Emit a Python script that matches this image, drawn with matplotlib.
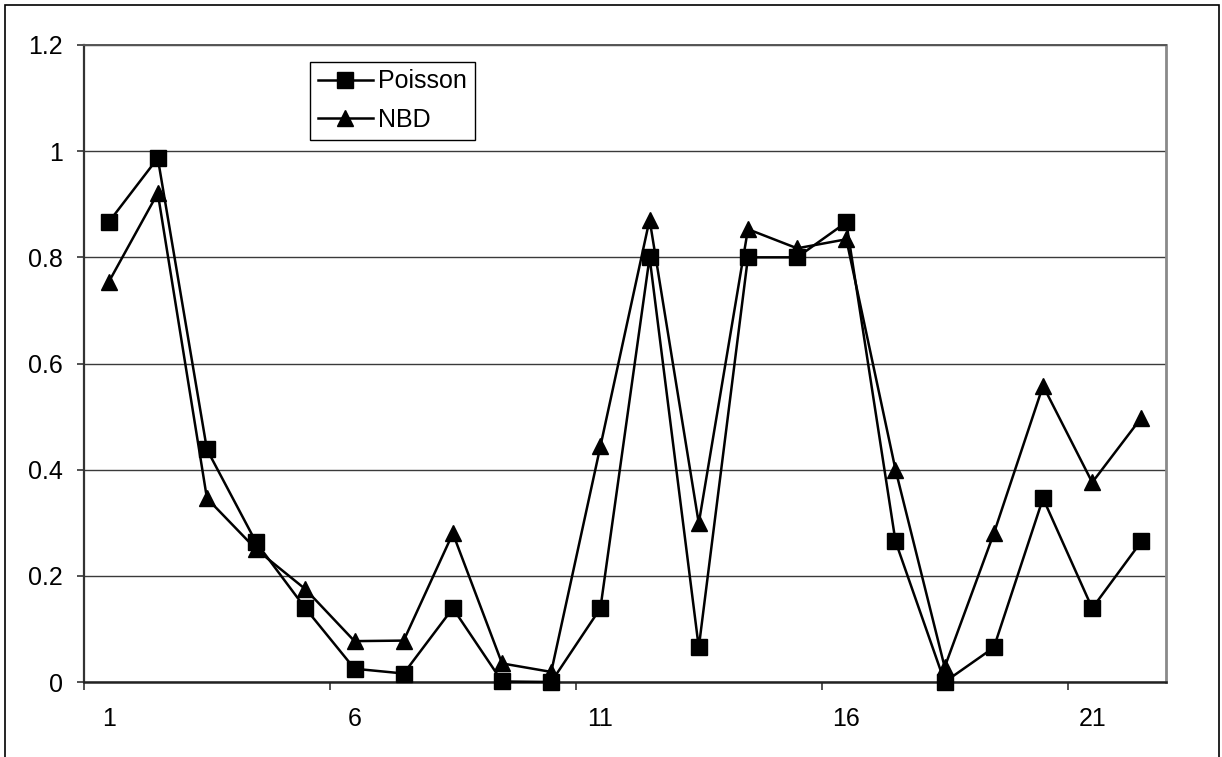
"""Line chart comparing Poisson and NBD fit values across 22 items."""

import matplotlib

matplotlib.use("Agg")

import matplotlib.pyplot as plt
from matplotlib.patches import Rectangle
from matplotlib.ticker import FixedLocator


CATEGORIES = list(range(1, 23))
POISSON = [0.866, 0.987, 0.438, 0.263, 0.139, 0.025, 0.016, 0.139, 0.001, 0.0, 0.139,
           0.800, 0.065, 0.800, 0.800, 0.866, 0.265, 0.0, 0.065, 0.346, 0.139, 0.265]
NBD = [0.753, 0.921, 0.346, 0.250, 0.175, 0.077, 0.078, 0.280, 0.035, 0.019, 0.444,
       0.871, 0.299, 0.853, 0.817, 0.834, 0.400, 0.028, 0.280, 0.558, 0.376, 0.498]
X_TICK_LABELS = ["1", "6", "11", "16", "21"]
Y_TICKS = [0, 0.2, 0.4, 0.6, 0.8, 1, 1.2]
Y_TICK_LABELS = ["0", "0.2", "0.4", "0.6", "0.8", "1", "1.2"]

WIDTH, HEIGHT = 1222, 757
FONT_SIZE = 18


def build_chart(output_file="out.png"):
    plt.rcParams["font.family"] = ["Liberation Sans", "DejaVu Sans"]
    fig = plt.figure(figsize=(WIDTH / 100, HEIGHT / 100), dpi=100)

    # plot area in pixels: x 84..1166, y 45..682
    ax = fig.add_axes([84 / WIDTH, 1 - 682 / HEIGHT, (1166 - 84) / WIDTH, (682 - 45) / HEIGHT])

    # outer chart border (open at the bottom edge of the image)
    fig.patches.append(Rectangle((5 / WIDTH, -0.05), (1219 - 5) / WIDTH, 1.05 - 5 / HEIGHT,
                                 transform=fig.transFigure, fill=False,
                                 edgecolor="black", linewidth=1.2))

    ax.set_xlim(0.5, len(CATEGORIES) + 0.5)
    ax.set_ylim(0, 1.2)

    ax.set_yticks(Y_TICKS)
    ax.set_yticklabels(Y_TICK_LABELS)
    ax.yaxis.grid(True, color="#3a3a3a", linewidth=1.0)
    ax.set_axisbelow(True)

    label_pos = [int(t) for t in X_TICK_LABELS]
    ax.set_xticks(label_pos)
    ax.set_xticklabels(X_TICK_LABELS)
    ax.xaxis.set_minor_locator(FixedLocator([p - 0.5 for p in label_pos]))
    ax.tick_params(axis="x", which="major", length=0, pad=18, labelsize=FONT_SIZE)
    ax.tick_params(axis="x", which="minor", length=6, width=1.2, direction="out", color="#333333")
    ax.tick_params(axis="y", length=5, width=1.2, direction="out", pad=10,
                   labelsize=FONT_SIZE, color="#333333")

    ax.spines["left"].set_color("#333333")
    ax.spines["left"].set_linewidth(1.6)
    ax.spines["bottom"].set_color("#222222")
    ax.spines["bottom"].set_linewidth(1.8)
    ax.spines["right"].set_color("#8a8a8a")
    ax.spines["right"].set_linewidth(2.0)
    ax.spines["top"].set_color("#555555")
    ax.spines["top"].set_linewidth(1.4)

    ax.plot(CATEGORIES, POISSON, color="black", linewidth=1.8, marker="s",
            markersize=11, label="Poisson", clip_on=False, zorder=3)
    ax.plot(CATEGORIES, NBD, color="black", linewidth=1.8, marker="^",
            markersize=11, label="NBD", clip_on=False, zorder=3)

    legend = ax.legend(loc="upper left", bbox_to_anchor=(310 / WIDTH, 1 - 62 / HEIGHT),
                       bbox_transform=fig.transFigure, borderaxespad=0, fontsize=FONT_SIZE,
                       frameon=True, fancybox=False, edgecolor="black", framealpha=1,
                       handlelength=2.2, handletextpad=0.24, borderpad=0.3,
                       labelspacing=0.58)
    legend.get_frame().set_linewidth(1.0)

    fig.savefig(output_file, dpi=100)
    plt.close(fig)


if __name__ == "__main__":
    build_chart()
